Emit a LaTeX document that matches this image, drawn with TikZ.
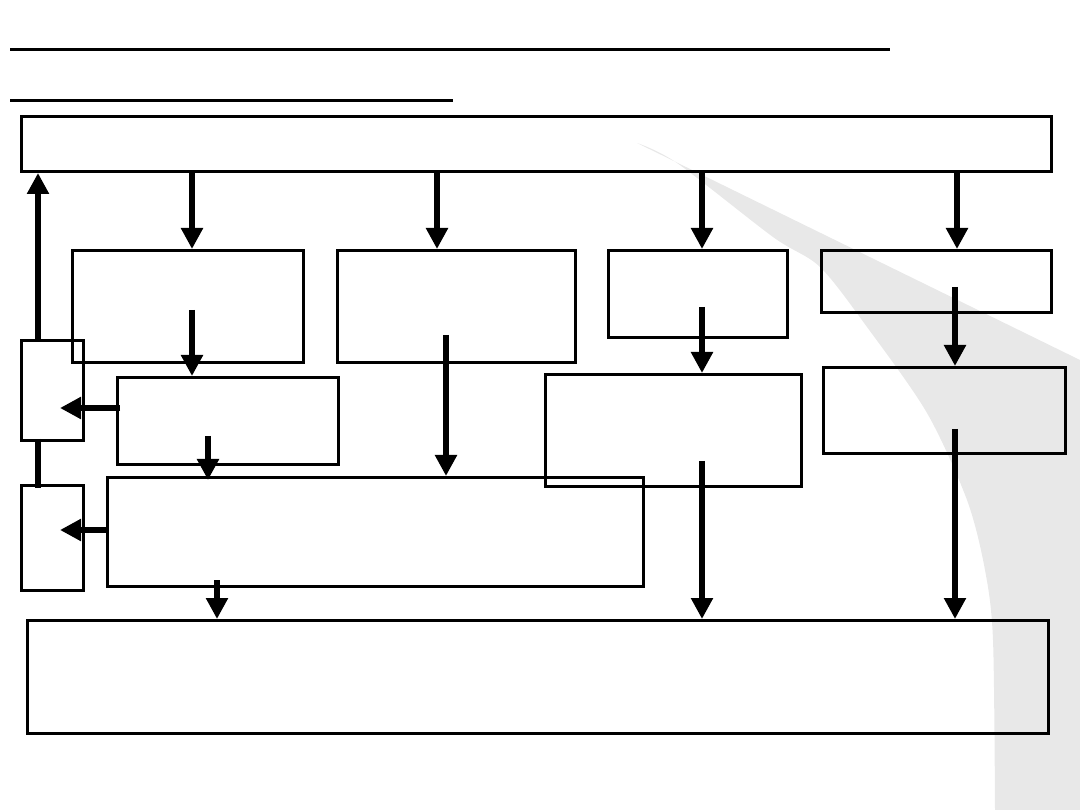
\documentclass[tikz,border=0pt]{standalone}
\usetikzlibrary{arrows.meta,calc}
\definecolor{swooshgray}{HTML}{E8E8E8}
\tikzset{
  box/.style={draw=black, line width=3pt, inner sep=0pt, anchor=north west},
  arr/.style={line width=5.5pt, -{Triangle[width=21pt,length=21pt]}},
  bar/.style={line width=5.5pt},
  rule/.style={line width=3pt}
}
\begin{document}
\begin{tikzpicture}[x=1pt,y=-1pt]
\useasboundingbox (0,0) rectangle (1080,810);
% background swoosh
\fill[swooshgray] (637,143) -- (1080,360) -- (1080,810) -- (995,810)
  -- plot[smooth] coordinates {(995,810) (993,640) (985,570) (967,500) (927,413) (867,327) (820,267) (773,237) (677,163) (637,143)} -- cycle;
% title rules
\coordinate (r1a) at (10,50); \coordinate (r1b) at (890,50);
\coordinate (r2a) at (10,101); \coordinate (r2b) at (453,101);
\draw[rule] (r1a) -- (r1b);
\draw[rule] (r2a) -- (r2b);
% boxes
\node[box, minimum width=1030pt, minimum height=55pt] (top) at (20,115) {};
\node[box, minimum width=231pt, minimum height=112pt] (A) at (71,249) {};
\node[box, minimum width=238pt, minimum height=112pt] (B) at (336,249) {};
\node[box, minimum width=179pt, minimum height=87pt] (C) at (607,249) {};
\node[box, minimum width=230pt, minimum height=62pt] (D) at (820,249) {};
\node[box, minimum width=221pt, minimum height=87pt] (E) at (116,376) {};
\node[box, minimum width=256pt, minimum height=112pt] (F) at (544,373) {};
\node[box, minimum width=242pt, minimum height=86pt] (G) at (822,366) {};
\node[box, minimum width=536pt, minimum height=109pt] (H) at (106,476) {};
\node[box, minimum width=62pt, minimum height=100pt] (S1) at (20,339) {};
\node[box, minimum width=62pt, minimum height=105pt] (S2) at (20,484) {};
\node[box, minimum width=1021pt, minimum height=113pt] (bot) at (26,619) {};
% columns
\coordinate (c1) at (192,0);
\coordinate (c2) at (437,0);
\coordinate (c3) at (702,0);
\coordinate (c4) at (957,0);
% arrows from top box
\draw[arr] (top.south -| c1) -- (A.north -| c1);
\draw[arr] (top.south -| c2) -- (B.north -| c2);
\draw[arr] (top.south -| c3) -- (C.north -| c3);
\draw[arr] (top.south -| c4) -- (D.north -| c4);
% inner arrows
\coordinate (sA) at (192,310);
\draw[arr] (sA) -- (sA |- E.north);
\coordinate (sB) at (446,335);
\draw[arr] (sB) -- (sB |- H.north);
\coordinate (sC) at (702,307);
\draw[arr] (sC) -- (sC |- F.north);
\coordinate (sD) at (955,287);
\draw[arr] (sD) -- (sD |- G.north);
\coordinate (sE) at (208,436);
\draw[arr] (sE) -- ($(sE |- H.north)+(0,4)$);
\coordinate (sF) at (702,461);
\draw[arr] (sF) -- (sF |- bot.north);
\coordinate (sG) at (955,429);
\draw[arr] (sG) -- (sG |- bot.north);
\coordinate (sH) at (217,580);
\draw[arr] (sH) -- (sH |- bot.north);
% left arrows
\coordinate (tE) at (60,408);
\draw[arr] ($(E.west |- tE)+(4,0)$) -- (tE);
\coordinate (tH) at (60,530);
\draw[arr] ($(H.west |- tH)+(2,0)$) -- (tH);
% feedback
\coordinate (cl) at (38,0);
\draw[arr] (S1.north -| cl) -- (top.south -| cl);
\draw[bar] ($(S1.south -| cl)+(0,-3)$) -- ($(S2.north -| cl)+(0,4)$);
\end{tikzpicture}
\end{document}
